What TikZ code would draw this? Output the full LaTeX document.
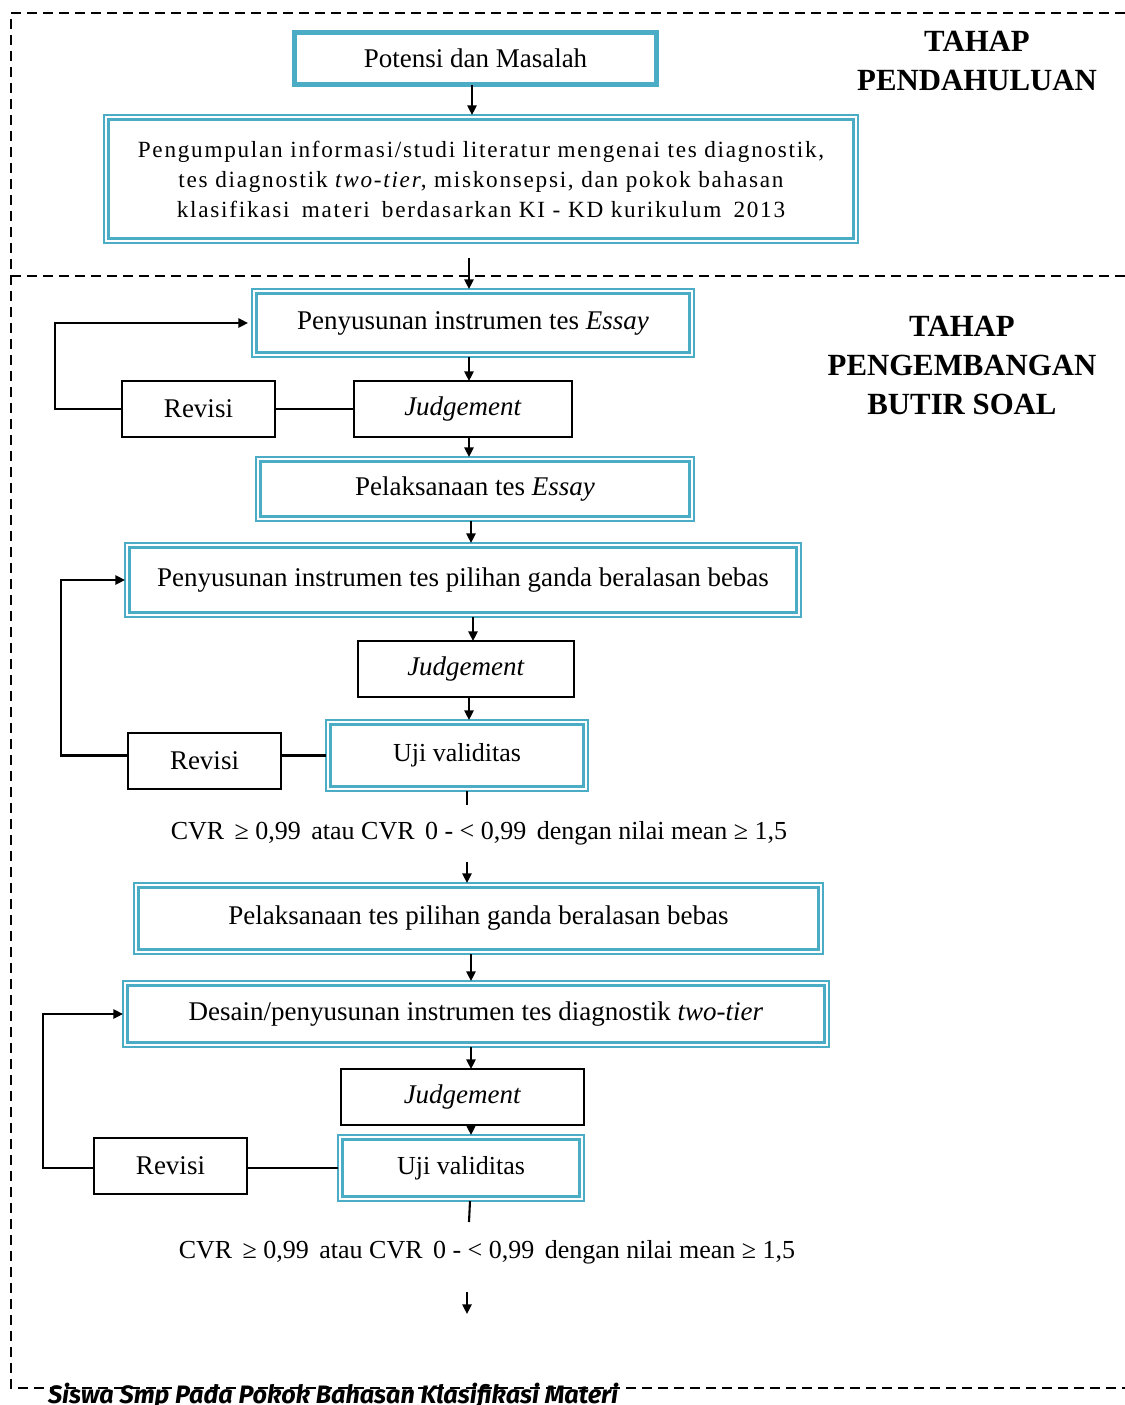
\documentclass[tikz,border=0pt]{standalone}
\usepackage{fontspec}
\setmainfont{Liberation Serif}
\newfontfamily\capfont{Fira Sans}
\usetikzlibrary{arrows.meta,calc}
\definecolor{cyanc}{HTML}{4BACC6}
\begin{document}
\begin{tikzpicture}[x=0.5pt,y=-0.5pt,
  every node/.style={inner sep=0pt, outer sep=0pt, font=\fontsize{13.5}{16}\selectfont},
  thickbox/.style={draw=cyanc, line width=2.4pt},
  dbox/.style={draw=cyanc, line width=0.6pt},
  inl/.style={draw=cyanc, line width=1.3pt},
  pbox/.style={draw=black, line width=0.9pt},
  arr/.style={line width=1.05pt, -{Triangle[length=4.8pt,width=4.6pt]}},
  ln/.style={line width=1.05pt},
  dsh/.style={line width=0.9pt, dash pattern=on 5pt off 3pt},
  head/.style={font=\bfseries\fontsize{15.4}{19.5}\selectfont, align=center},
  cvr/.style={font=\fontsize{13}{16}\selectfont}
]
\useasboundingbox (0,0) rectangle (1125,1405);

% dashed frames
\draw[dsh] (1125,13) -- (11,13) -- (11,1388) -- (1125,1388);
\draw[dsh] (11,276) -- (1125,276);

% headings
\node[head] (h1) at (977,61) {TAHAP\\PENDAHULUAN};
\node[head] (h2) at (962,365) {TAHAP\\PENGEMBANGAN\\BUTIR SOAL};

% boxes
\node[thickbox, minimum width=181pt, minimum height=26pt] (P) at (475.5,58.5) {Potensi dan Masalah};
\node[dbox, minimum width=377pt, minimum height=64pt, align=center,
  font=\fontsize{11.6}{15}\selectfont\addfontfeatures{LetterSpace=7.5}] (B2) at (481,179)
  {Pengumpulan informasi/studi literatur mengenai tes diagnostik,\\
   tes diagnostik \textit{two-tier}, miskonsepsi, dan pokok bahasan\\
   klasifikasi\hspace{0.2em} materi\hspace{0.2em} berdasarkan KI - KD kurikulum\hspace{0.2em} 2013};
\node[dbox, minimum width=221pt, minimum height=34pt] (B3) at (473,323) {Penyusunan instrumen tes \textit{Essay}};
\node[pbox, minimum width=109pt, minimum height=28pt] (J1) at (463,409) {\textit{Judgement}};
\node[pbox, minimum width=76.5pt, minimum height=28pt] (R1) at (198.5,409) {Revisi};
\node[dbox, minimum width=219pt, minimum height=32pt] (B4) at (475,489) {Pelaksanaan tes \textit{Essay}};
\node[dbox, minimum width=338pt, minimum height=37pt] (B5) at (463,580) {Penyusunan instrumen tes pilihan ganda beralasan bebas};
\node[pbox, minimum width=108pt, minimum height=28pt] (J2) at (466,669) {\textit{Judgement}};
\node[dbox, minimum width=131pt, minimum height=35.5pt, font=\fontsize{13}{16}\selectfont] (U1) at (457,755.5) {Uji validitas};
\node[pbox, minimum width=76.5pt, minimum height=28pt] (R2) at (204.5,761) {Revisi};
\node[cvr] (C1) at (479,833) {CVR\hspace{0.15em} ≥ 0,99\hspace{0.15em} atau CVR\hspace{0.15em} 0 - < 0,99\hspace{0.15em} dengan nilai mean ≥ 1,5};
\node[dbox, minimum width=344.5pt, minimum height=35.5pt] (B6) at (478.5,918.5) {Pelaksanaan tes pilihan ganda beralasan bebas};
\node[dbox, minimum width=353pt, minimum height=33pt] (B7) at (476,1014) {Desain/penyusunan instrumen tes diagnostik \textit{two-tier}};
\node[pbox, minimum width=121.5pt, minimum height=28pt] (J3) at (462.5,1097) {\textit{Judgement}};
\node[dbox, minimum width=123pt, minimum height=33pt, font=\fontsize{13}{16}\selectfont] (U2) at (461,1168) {Uji validitas};
\node[pbox, minimum width=76.5pt, minimum height=28pt] (R3) at (170.5,1166) {Revisi};
\node[cvr] (C2) at (487,1252) {CVR\hspace{0.15em} ≥ 0,99\hspace{0.15em} atau CVR\hspace{0.15em} 0 - < 0,99\hspace{0.15em} dengan nilai mean ≥ 1,5};

\node[anchor=base west, font=\capfont\bfseries\itshape\fontsize{12.6}{14}\selectfont] (foot) at (48,1403)
  {Siswa Smp Pada Pokok Bahasan Klasifikasi Materi};

% inner lines of double boxes
\foreach \n in {B2,B3,B4,B5,U1,B6,B7,U2}
  \draw[inl] ([shift={(4.5,4.5)}]\n.north west) rectangle ([shift={(-4.5,-4.5)}]\n.south east);

% column coordinates
\coordinate (k1) at (472,0);
\coordinate (t1) at (469,0);
\coordinate (t2) at (471,0);
\coordinate (t3) at (473,0);
\coordinate (t4) at (467,0);
\coordinate (t5) at (470,0);
\coordinate (l1) at (55,0);
\coordinate (l2) at (61,0);
\coordinate (l3) at (43,0);
\coordinate (s0) at (469,258);
\coordinate (s1) at (467,805);
\coordinate (s2) at (467,862);
\coordinate (s3) at (469,1222);
\coordinate (s4) at (467,1292);
\coordinate (s5) at (467,1314);

% connectors
\draw[arr] (P.south -| k1) -- (B2.north -| k1);
\draw[arr] (s0) -- (B3.north -| t1);
\draw[arr] (B3.south -| t1) -- (J1.north -| t1);
\draw[ln] (J1.west) -- (R1.east);
\draw[arr, shorten >=2pt] (R1.west) -| (l1 |- B3.west) -- (B3.west);
\draw[arr] (J1.south -| t1) -- (B4.north -| t1);
\draw[arr] (B4.south -| t2) -- (B5.north -| t2);
\draw[arr] (B5.south -| t3) -- (J2.north -| t3);
\draw[arr] (J2.south -| t1) -- (U1.north -| t1);
\draw[ln] (U1.west) -- (U1.west -| R2.east);
\draw[arr] (U1.west -| R2.west) -| (l2 |- B5.west) -- (B5.west);
\draw[ln] (U1.south -| t4) -- (s1);
\draw[arr] (s2) -- (B6.north -| t4);
\draw[arr] (B6.south -| t2) -- (B7.north -| t2);
\draw[arr] (B7.south -| t2) -- (J3.north -| t2);
\draw[arr] (J3.south -| t2) -- (U2.north -| t2);
\draw[ln] (U2.west) -- (U2.west -| R3.east);
\draw[arr] (U2.west -| R3.west) -| (l3 |- B7.west) -- (B7.west);
\draw[ln] (U2.south -| t5) -- (s3);
\draw[arr] (s4) -- (s5);
\end{tikzpicture}
\end{document}
